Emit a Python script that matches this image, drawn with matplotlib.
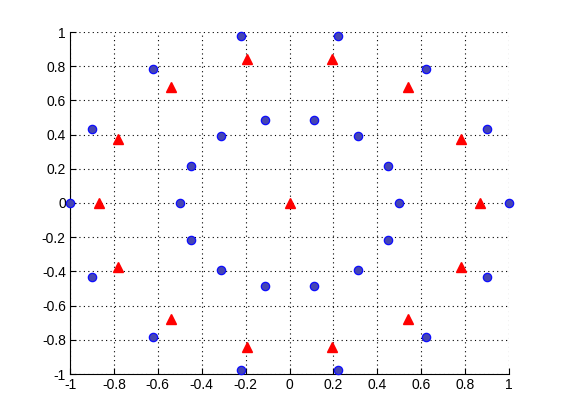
import matplotlib
matplotlib.use('Agg')
import matplotlib.pyplot as plt
from matplotlib.ticker import FormatStrFormatter

plt.rcParams['font.family'] = ['Liberation Sans', 'DejaVu Sans']
plt.rcParams['axes.unicode_minus'] = False

# Blue circles: outer ring and inner ring
circ_x = [1.0, 0.901, 0.623, 0.223, -0.223, -0.623, -0.901,
          -1.0, -0.901, -0.623, -0.223, 0.223, 0.623, 0.901,
          0.5, 0.45, 0.312, 0.111, -0.111, -0.312, -0.45,
          -0.5, -0.45, -0.312, -0.111, 0.111, 0.312, 0.45]
circ_y = [0.0, 0.434, 0.782, 0.975, 0.975, 0.782, 0.434,
          0.0, -0.434, -0.782, -0.975, -0.975, -0.782, -0.434,
          0.0, 0.217, 0.391, 0.487, 0.487, 0.391, 0.217,
          0.0, -0.217, -0.391, -0.487, -0.487, -0.391, -0.217]

# Red triangles: middle ring plus the centre
tri_x = [0.866, 0.78, 0.54, 0.193, -0.193, -0.54, -0.78,
         -0.866, -0.78, -0.54, -0.193, 0.193, 0.54, 0.78, 0.0]
tri_y = [0.0, 0.376, 0.677, 0.844, 0.844, 0.677, 0.376,
         0.0, -0.376, -0.677, -0.844, -0.844, -0.677, -0.376, 0.0]

ticks = [-1, -0.8, -0.6, -0.4, -0.2, 0, 0.2, 0.4, 0.6, 0.8, 1]

fig = plt.figure(figsize=(5.61, 4.2), dpi=100)
ax = fig.add_axes([70 / 561, 46 / 420, 439 / 561, 342 / 420])

ax.plot(circ_x, circ_y, 'o', markersize=6, markerfacecolor=(0.27, 0.27, 0.7),
        markeredgecolor=(0.05, 0.05, 1.0), markeredgewidth=0.9, clip_on=False, zorder=3)
ax.plot(tri_x, tri_y, '^', markersize=7, markerfacecolor='red',
        markeredgecolor='red', clip_on=False, zorder=3)

ax.set_xlim(-1, 1)
ax.set_ylim(-1, 1)
ax.set_xticks(ticks)
ax.set_yticks(ticks)
ax.xaxis.set_major_formatter(FormatStrFormatter('%g'))
ax.yaxis.set_major_formatter(FormatStrFormatter('%g'))
ax.tick_params(direction='in', length=4, width=0.8, labelsize=10, pad=3)
ax.grid(True, color='black', linestyle=(0, (1, 3)), linewidth=0.8)
ax.spines['top'].set_visible(False)
ax.spines['right'].set_visible(False)
for s in ax.spines.values():
    s.set_linewidth(0.8)

fig.savefig('out.png', dpi=100)
